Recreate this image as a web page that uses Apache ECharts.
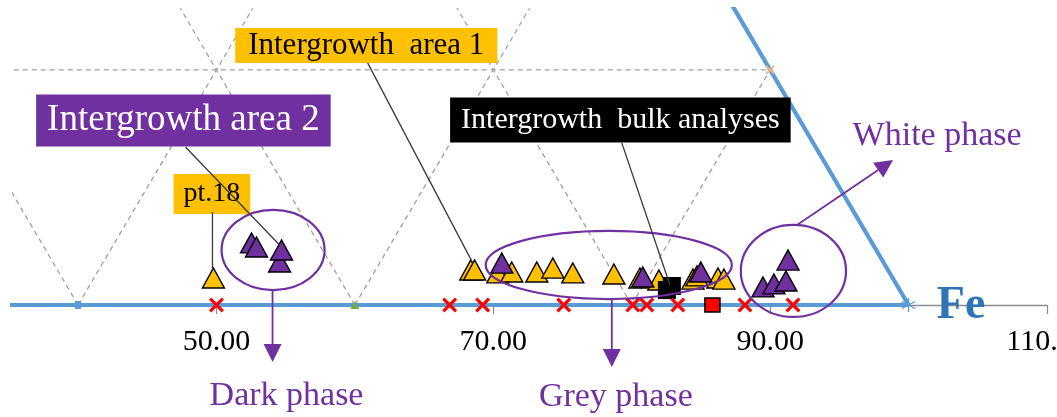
<!DOCTYPE html>
<html>
<head>
<meta charset="utf-8">
<title>Fe-rich corner: intergrowth analyses</title>
<script src="https://cdn.jsdelivr.net/npm/echarts@6/dist/echarts.min.js"></script>
<style>
  html, body { margin: 0; padding: 0; background: #ffffff; }
  #main { width: 1057px; height: 417px; }
</style>
</head>
<body>
<div id="main"></div>
<script>
// ---- data (x = position along the base edge, y = height in the ternary plot) ----
const xTickValues = [50, 70, 90, 110];

// Intergrowth area 1 analyses (orange triangles), first one is pt.18
const area1Points = [
  [49.78, 1.99], [68.37, 2.58], [68.65, 2.58], [70.32, 2.36], [71.33, 2.43],
  [73.14, 2.43], [74.30, 2.72], [75.74, 2.36], [78.71, 2.28], [80.59, 1.99],
  [81.96, 1.84], [84.42, 1.91], [84.71, 2.14], [86.23, 1.99], [86.66, 1.91]
];

// Intergrowth area 2 analyses (purple triangles)
const area2Points = [
  [54.56, 3.17], [54.70, 4.05], [52.53, 4.57], [52.89, 4.27], [70.61, 3.09],
  [80.80, 2.06], [84.99, 2.43], [89.48, 1.33], [90.27, 1.55], [91.14, 1.77],
  [91.29, 3.31]
];

// Intergrowth bulk analyses (black squares)
const bulkPoints = [[82.54, 1.10], [82.90, 1.40]];

// Reference compositions on the base edge
const refCrossPoints = [
  [50.00, 0], [66.85, 0], [69.23, 0], [75.09, 0], [80.08, 0],
  [81.09, 0], [83.33, 0], [88.18, 0], [91.65, 0]
];
const refSquarePoints = [[85.83, 0]];

// ---- ternary frame ----
const SQ3 = Math.sqrt(3) / 2;
const frameEdges = [
  [[0, 0], [100, 0]],
  [[100, 0], [50, 100 * SQ3]]
];
const gridSegments = [];
[20, 40, 60, 80].forEach(function (k) {
  gridSegments.push([[k, 0], [k + (100 - k) / 2, (100 - k) * SQ3]]);
  gridSegments.push([[k, 0], [k / 2, k * SQ3]]);
  gridSegments.push([[k / 2, k * SQ3], [100 - k / 2, k * SQ3]]);
});

// marker paths
const crossPath = 'path://M0,3 L3,0 L10,7 L17,0 L20,3 L13,10 L20,17 L17,20 L10,13 L3,20 L0,17 L7,10 Z';
const starPath = 'path://M9.2,0 L10.8,0 L10.8,20 L9.2,20 Z M0.9,5.7 L1.7,4.3 L19.1,14.3 L18.3,15.7 Z M0.9,14.3 L18.3,4.3 L19.1,5.7 L1.7,15.7 Z';

// ---- annotations ----
const PURPLE = '#7030A0';
const SERIF = '"Liberation Serif", "Times New Roman", serif';

const phaseEllipses = [
  { center: [54.09, 4.05], radius: [3.72, 2.95] },
  { center: [78.34, 2.95], radius: [8.89, 2.51] },
  { center: [91.68, 2.51], radius: [3.80, 3.39] }
];

const phaseArrows = [
  { from: [54.05, 1.10], to: [54.05, -4.20] },
  { from: [78.56, 0.44], to: [78.56, -4.57] },
  { from: [91.94, 5.89], to: [98.88, 10.68] }
];

const leaderLines = [
  { from: [60.92, 17.83], to: [68.51, 3.10] },
  { from: [47.76, 11.64], to: [54.56, 4.42] },
  { from: [49.71, 6.85], to: [49.71, 2.58] },
  { from: [79.28, 11.94], to: [82.76, 1.47] }
];

const calloutBoxes = [
  { at: [60.82, 19.11], text: 'Intergrowth  area 1', bg: '#FFC000', color: '#000000', size: 31, lh: 31, pad: [2, 13] },
  { at: [47.61, 13.59], text: 'Intergrowth area 2', bg: PURPLE, color: '#ffffff', size: 37, lh: 40, pad: [6, 11] },
  { at: [79.18, 13.62], text: 'Intergrowth  bulk analyses', bg: '#000000', color: '#ffffff', size: 30, lh: 33, pad: [6, 11] },
  { at: [49.67, 8.17], text: 'pt.18', bg: '#FFC000', color: '#000000', size: 28, lh: 30, pad: [5, 10] }
];

const plainTexts = [
  { at: [102.06, 12.44], text: 'White phase', color: PURPLE, font: '34px ' + SERIF },
  { at: [55.06, -6.70], text: 'Dark phase', color: PURPLE, font: '34px ' + SERIF },
  { at: [78.85, -6.77], text: 'Grey phase', color: PURPLE, font: '34px ' + SERIF },
  { at: [103.79, -0.07], text: 'Fe', color: '#2E75B6', font: 'bold 46px ' + SERIF }
];

function lineSeries(points, style, z) {
  return {
    type: 'line', data: points, showSymbol: false, silent: true,
    lineStyle: style, z: z, animation: false
  };
}

const series = [];
gridSegments.forEach(function (seg) {
  series.push(lineSeries(seg, { color: '#A0A0A0', width: 1.3, type: [5, 4] }, 1));
});
frameEdges.forEach(function (seg) {
  series.push(lineSeries(seg, { color: '#5B9BD5', width: 4.2 }, 2));
});

function nodeMarker(point, symbol, size, color) {
  return {
    type: 'scatter', data: [point], symbol: symbol, symbolSize: size,
    itemStyle: { color: color, opacity: 1 }, z: 3, clip: false, silent: true
  };
}
// small node markers of the frame grid
series.push(nodeMarker([40, 0], 'roundRect', [7, 8], '#5B9BD5'));
series.push(nodeMarker([60, 0], 'triangle', [9, 8], '#70AD47'));
series.push(nodeMarker([90, 20 * SQ3], crossPath, 9, '#F4B183'));
series.push(nodeMarker([100, 0], starPath, 14, '#5B9BD5'));

series.push({
  name: 'Intergrowth area 1', type: 'scatter', data: area1Points,
  symbol: 'triangle', symbolSize: [22, 20],
  itemStyle: { color: '#FFC000', borderColor: '#000000', borderWidth: 1.4, opacity: 1 }, z: 4, clip: false
});
series.push({
  name: 'Intergrowth area 2', type: 'scatter', data: area2Points,
  symbol: 'triangle', symbolSize: [22, 20],
  itemStyle: { color: PURPLE, borderColor: '#000000', borderWidth: 1.4, opacity: 1 }, z: 4, clip: false
});
series.push({
  name: 'Intergrowth bulk analyses', type: 'scatter', data: bulkPoints,
  symbol: 'rect', symbolSize: 18,
  itemStyle: { color: '#000000', opacity: 1 }, z: 4, clip: false
});
series.push({
  name: 'Reference', type: 'scatter', data: refCrossPoints,
  symbol: crossPath, symbolSize: 15,
  itemStyle: { color: '#FF0000', opacity: 1 }, z: 4, clip: false
});
series.push({
  name: 'Reference bulk', type: 'scatter', data: refSquarePoints,
  symbol: 'rect', symbolSize: [15, 14],
  itemStyle: { color: '#FF0000', borderColor: '#000000', borderWidth: 1.5, opacity: 1 }, z: 4, clip: false
});

// phase ellipses
series.push({
  type: 'custom', silent: true, z: 5, clip: false,
  data: phaseEllipses.map(function (e) { return e.center; }),
  renderItem: function (params, api) {
    const e = phaseEllipses[params.dataIndex];
    const c = api.coord(e.center);
    const s = api.size(e.radius);
    return {
      type: 'ellipse',
      shape: { cx: c[0], cy: c[1], rx: s[0], ry: s[1] },
      style: { fill: null, stroke: PURPLE, lineWidth: 2.2 }
    };
  }
});

// arrows pointing to the phase names
series.push({
  type: 'custom', silent: true, z: 5, clip: false,
  data: phaseArrows.map(function (a) { return a.from; }),
  renderItem: function (params, api) {
    const a = phaseArrows[params.dataIndex];
    const p0 = api.coord(a.from);
    const p1 = api.coord(a.to);
    const dx = p1[0] - p0[0], dy = p1[1] - p0[1];
    const len = Math.sqrt(dx * dx + dy * dy);
    const ux = dx / len, uy = dy / len;
    const headLen = 18, headHalf = 9;
    const bx = p1[0] - ux * headLen, by = p1[1] - uy * headLen;
    return {
      type: 'group',
      children: [
        { type: 'line', shape: { x1: p0[0], y1: p0[1], x2: bx, y2: by }, style: { stroke: PURPLE, lineWidth: 1.8 } },
        { type: 'polygon', shape: { points: [[p1[0], p1[1]], [bx - uy * headHalf, by + ux * headHalf], [bx + uy * headHalf, by - ux * headHalf]] }, style: { fill: PURPLE } }
      ]
    };
  }
});

// callout boxes
series.push({
  type: 'custom', silent: true, z: 6, clip: false,
  data: calloutBoxes.map(function (b) { return b.at; }),
  renderItem: function (params, api) {
    const b = calloutBoxes[params.dataIndex];
    const c = api.coord(b.at);
    return {
      type: 'text', x: c[0], y: c[1],
      style: {
        text: b.text, fill: b.color, font: b.size + 'px ' + SERIF,
        align: 'center', verticalAlign: 'middle',
        backgroundColor: b.bg, padding: b.pad, lineHeight: b.lh
      }
    };
  }
});

// leader lines from the callouts
series.push({
  type: 'custom', silent: true, z: 7, clip: false,
  data: leaderLines.map(function (l) { return l.from; }),
  renderItem: function (params, api) {
    const l = leaderLines[params.dataIndex];
    const p0 = api.coord(l.from), p1 = api.coord(l.to);
    return {
      type: 'line', shape: { x1: p0[0], y1: p0[1], x2: p1[0], y2: p1[1] },
      style: { stroke: '#3A3A3A', lineWidth: 1.3 }
    };
  }
});

// phase names and the Fe corner
series.push({
  type: 'custom', silent: true, z: 6, clip: false,
  data: plainTexts.map(function (t) { return t.at; }),
  renderItem: function (params, api) {
    const t = plainTexts[params.dataIndex];
    const c = api.coord(t.at);
    return {
      type: 'text', x: c[0], y: c[1],
      style: { text: t.text, fill: t.color, font: t.font, align: 'center', verticalAlign: 'middle' }
    };
  }
});

const chart = echarts.init(document.getElementById('main'));
chart.setOption({
  animation: false,
  backgroundColor: '#ffffff',
  grid: { left: 13, right: 10, top: 9, bottom: 112, containLabel: false, outerBoundsMode: 'none' },
  xAxis: {
    type: 'value', min: 35.3, max: 110,
    axisLine: { show: true, lineStyle: { color: '#8C8C8C', width: 1.3 } },
    axisTick: { show: true, customValues: xTickValues, length: 9, lineStyle: { color: '#8C8C8C', width: 1.2 } },
    axisLabel: {
      customValues: xTickValues,
      formatter: function (v) { return v.toFixed(2); },
      margin: 22, color: '#000000', fontFamily: 'Liberation Serif', fontSize: 30, lineHeight: 30
    },
    splitLine: { show: false }
  },
  yAxis: { type: 'value', min: 0, max: 21.8, show: false },
  series: series
});
</script>
</body>
</html>
